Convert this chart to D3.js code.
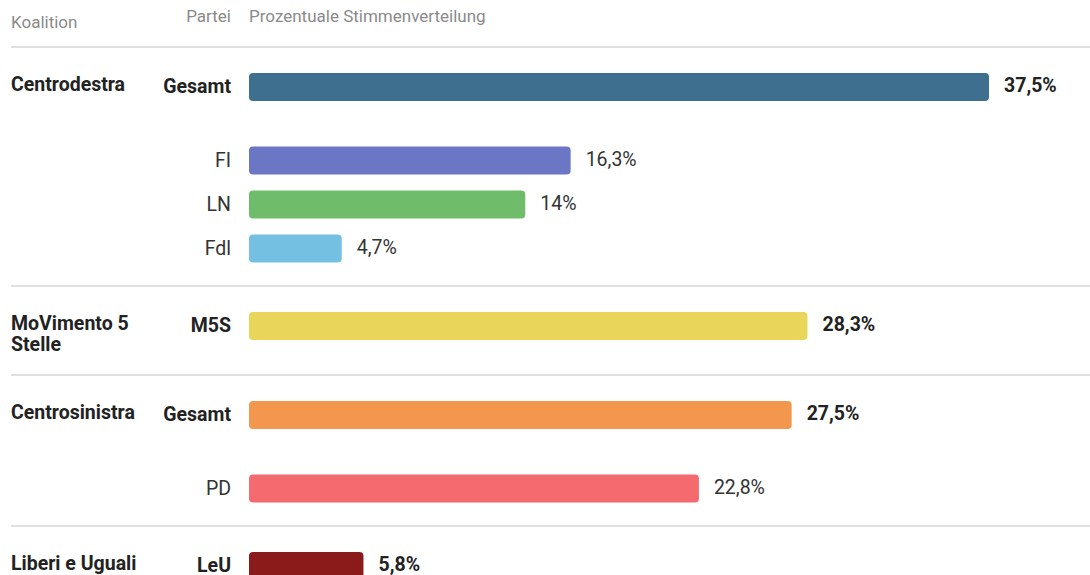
<!DOCTYPE html>
<html lang="de">
<head>
  <meta charset="UTF-8">
  <title>Stimmenverteilung Italien</title>
  <script src="https://d3js.org/d3.v7.min.js"></script>
  <style>
    body { margin: 0; background: #fff; }
    svg { display: block; font-family: Roboto, 'Open Sans', sans-serif; }
    .head { font-size: 17px; fill: #8a8a8a; }
    .coal { font-size: 19.5px; font-weight: 700; fill: #222; }
    .party { font-size: 19.5px; fill: #333; }
    .party.main { font-weight: 700; fill: #222; }
    .val { font-size: 19.5px; fill: #333; }
    .val.main { font-weight: 700; fill: #222; }
    .sep { stroke: #d6d6d6; stroke-width: 1.5; }
  </style>
</head>
<body>
  <svg id="chart" width="1090" height="575"></svg>
  <script>
    // coalitions, each with its parties
    const coalitions = ["Centrodestra", "MoVimento 5 Stelle", "Centrosinistra", "Liberi e Uguali"];
    const coalitionLines = [["Centrodestra"], ["MoVimento 5", "Stelle"], ["Centrosinistra"], ["Liberi e Uguali"]];
    const partyLabels = [
      ["Gesamt", "FI", "LN", "Fdl"],
      ["M5S"],
      ["Gesamt", "PD"],
      ["LeU"]
    ];
    const values = [
      [37.5, 16.3, 14, 4.7],
      [28.3],
      [27.5, 22.8],
      [5.8]
    ];
    const colors = [
      ["#3e6f8e", "#6b76c4", "#6fbd6a", "#74c0e2"],
      ["#e8d55a"],
      ["#f3974f", "#f46a6e"],
      ["#8b1a1a"]
    ];

    const svg = d3.select("#chart");
    const width = +svg.attr("width");

    const x = d3.scaleLinear().domain([0, 37.5]).range([249, 989]);
    const fmt = v => d3.format(",")(v).replace(".", ",") + "%";
    const barH = 28;

    // header
    svg.append("text").attr("class", "head").attr("x", 11).attr("y", 28).text("Koalition");
    svg.append("text").attr("class", "head").attr("x", 231).attr("y", 22)
      .attr("text-anchor", "end").text("Partei");
    svg.append("text").attr("class", "head").attr("x", 249).attr("y", 22).text("Prozentuale Stimmenverteilung");

    // layout of rows
    let yPos = 47;
    const groups = coalitions.map((c, i) => {
      const rows = values[i].map((v, j) => {
        const cy = yPos + 40 + (j === 0 ? 0 : 73.5 + (j - 1) * 44);
        return { party: partyLabels[i][j], value: v, color: colors[i][j], cy, main: j === 0 };
      });
      const g = { name: c, lines: coalitionLines[i], top: yPos, rows };
      yPos = Math.max(rows[rows.length - 1].cy + 37.5, yPos + 89);
      return g;
    });

    groups.forEach(grp => {
      svg.append("line").attr("class", "sep")
        .attr("x1", 11).attr("x2", width).attr("y1", grp.top).attr("y2", grp.top);

      const first = grp.rows[0].cy;
      svg.append("text").attr("class", "coal")
        .attr("x", 11).attr("y", first + 4)
        .selectAll("tspan").data(grp.lines).join("tspan")
        .attr("x", 11).attr("dy", (d, k) => k === 0 ? 0 : 21)
        .text(d => d);

      const row = svg.append("g").selectAll("g").data(grp.rows).join("g");

      row.append("rect")
        .attr("x", x(0))
        .attr("y", d => d.cy - barH / 2)
        .attr("width", d => x(d.value) - x(0))
        .attr("height", barH)
        .attr("rx", 4)
        .attr("fill", d => d.color);

      row.append("text")
        .attr("class", d => "party" + (d.main ? " main" : ""))
        .attr("x", 231).attr("y", d => d.cy + 6)
        .attr("text-anchor", "end")
        .text(d => d.party);

      row.append("text")
        .attr("class", d => "val" + (d.main ? " main" : ""))
        .attr("x", d => x(d.value) + 15).attr("y", d => d.cy + 5)
        .text(d => fmt(d.value));
    });
  </script>
</body>
</html>
